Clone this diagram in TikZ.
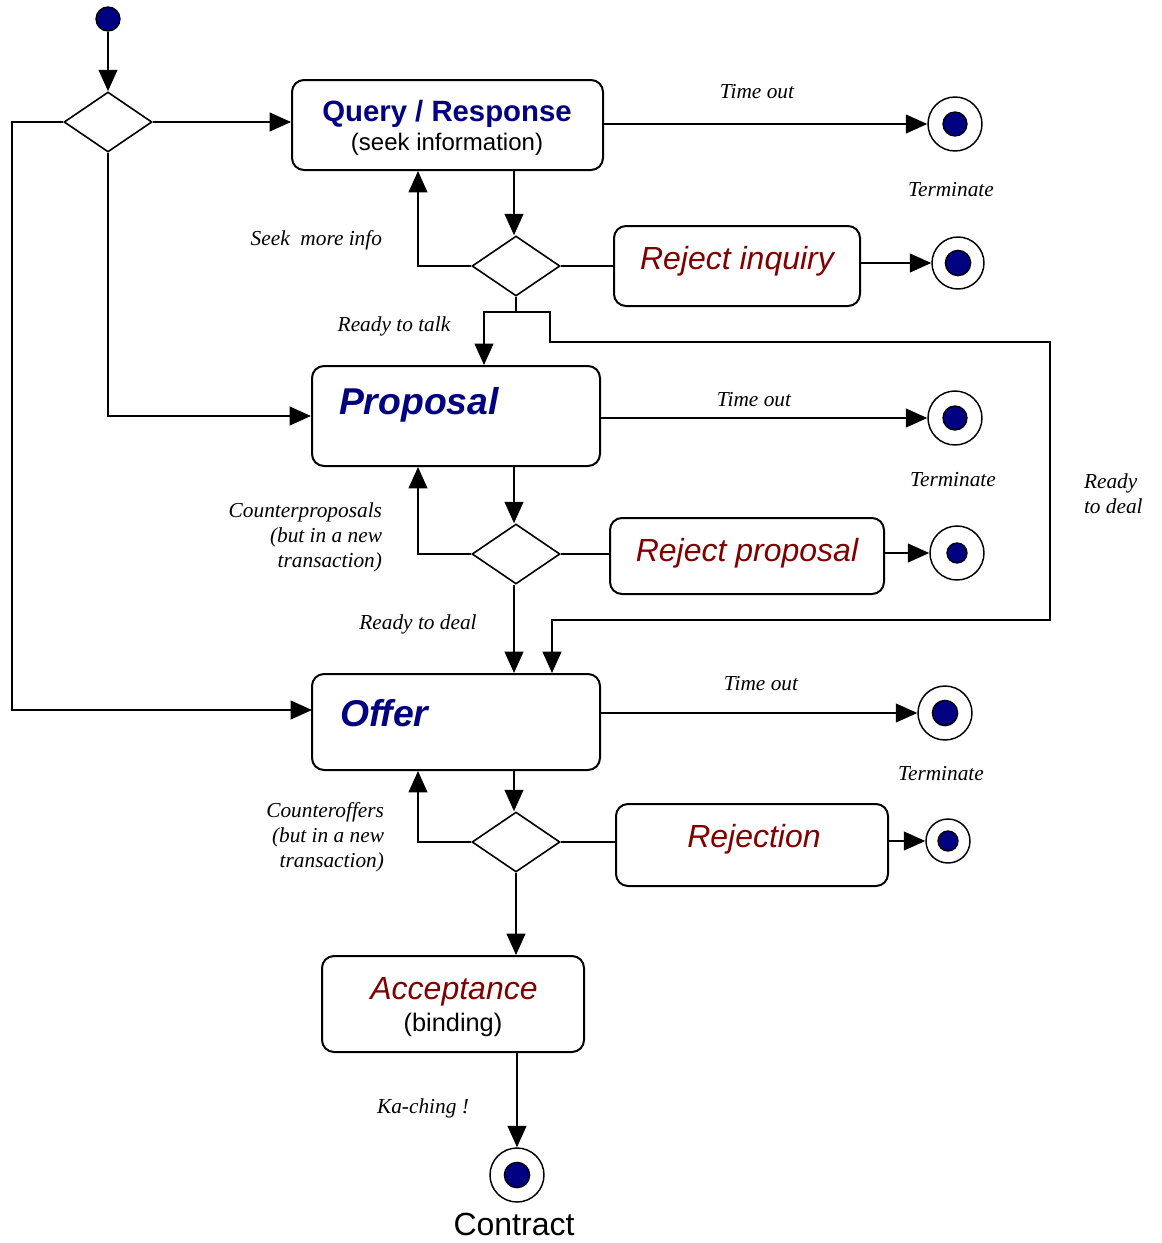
\documentclass[tikz,border=0pt]{standalone}
\usepackage{fontspec}
\setmainfont{Liberation Serif}
\newfontfamily\arial{Liberation Sans}
\usetikzlibrary{arrows.meta,shapes.geometric}
\definecolor{navyblue}{RGB}{0,0,128}
\definecolor{darkred}{RGB}{128,0,0}
\begin{document}
\begin{tikzpicture}[x=0.75pt,y=-0.75pt,
  line width=1.5pt,
  arr/.style={-{Triangle[length=16pt,width=14pt]}},
  box/.style={draw,rounded corners=9pt,inner sep=0pt},
  dec/.style={draw,diamond,inner sep=0pt,minimum width=66pt,minimum height=45pt,line width=1.2pt},
  endpt/.style={draw,circle,inner sep=0pt,fill=white,line width=1.1pt},
  dotpt/.style={draw,circle,inner sep=0pt,fill=navyblue,line width=1pt},
  lbl/.style={font=\fontsize{16}{19}\selectfont\itshape,inner sep=0pt},
  ttl/.style={font=\arial\fontsize{22}{26}\selectfont\bfseries,text=navyblue,inner sep=0pt},
  big/.style={font=\arial\fontsize{28}{32}\selectfont\bfseries\itshape,text=navyblue,inner sep=0pt},
  red/.style={font=\arial\fontsize{24}{28}\selectfont\itshape,text=darkred,inner sep=0pt},
  sub/.style={font=\arial\fontsize{18}{22}\selectfont,inner sep=0pt}
]
\useasboundingbox (0,0) rectangle (1161,1243);

% start
\node[dotpt,minimum size=18pt] (start) at (108,19) {};

% decisions
\node[dec] (d0) at (108,122) {};
\node[dec] (d1) at (516,266) {};
\node[dec] (d2) at (516,554) {};
\node[dec] (d3) at (516,842) {};

% boxes
\node[box,minimum width=233.25pt,minimum height=67.5pt] (query) at (447.5,125) {};
\node[ttl] (queryt) at (447,114) {Query / Response};
\node[sub] (querys) at (447,144) {(seek information)};

\node[box,minimum width=184.5pt,minimum height=60pt] (rejinq) at (737,266) {};
\node[red] (rejinqt) at (737,261) {Reject inquiry};

\node[box,minimum width=216pt,minimum height=75pt] (proposal) at (456,416) {};
\node[big,anchor=west] (proposalt) at (338,405) {Proposal};

\node[box,minimum width=205.5pt,minimum height=57pt] (rejprop) at (747,556) {};
\node[red] (rejpropt) at (747,553) {Reject proposal};

\node[box,minimum width=216pt,minimum height=72pt] (offer) at (456,722) {};
\node[big,anchor=west] (offert) at (339,713) {Offer};

\node[box,minimum width=204pt,minimum height=61.5pt] (rejection) at (752,845) {};
\node[red] (rejectiont) at (754,839) {Rejection};

\node[box,minimum width=196.5pt,minimum height=72pt] (accept) at (453,1004) {};
\node[red] (acceptt) at (454,992) {Acceptance};
\node[sub,font=\arial\fontsize{19}{22}\selectfont] (accepts) at (453,1025) {(binding)};

% end points
\node[endpt,minimum size=40.5pt] (e1) at (955,124) {};
\node[dotpt,minimum size=18pt] (e1d) at (e1) {};
\node[endpt,minimum size=39pt] (e2) at (958,263) {};
\node[dotpt,minimum size=19pt] (e2d) at (e2) {};
\node[endpt,minimum size=40.5pt] (e3) at (955,418) {};
\node[dotpt,minimum size=18pt] (e3d) at (e3) {};
\node[endpt,minimum size=40.5pt] (e4) at (957,553) {};
\node[dotpt,minimum size=15pt] (e4d) at (e4) {};
\node[endpt,minimum size=40.5pt] (e5) at (945,713) {};
\node[dotpt,minimum size=19pt] (e5d) at (e5) {};
\node[endpt,minimum size=33pt] (e6) at (948,841) {};
\node[dotpt,minimum size=15pt] (e6d) at (e6) {};
\node[endpt,minimum size=40.5pt] (e7) at (517,1175) {};
\node[dotpt,minimum size=19pt] (e7d) at (e7) {};

% labels
\node[lbl] (l1) at (757,92) {Time out};
\node[lbl] (l2) at (951,190) {Terminate};
\node[lbl,anchor=east] (l3) at (383,240) {Seek\ \ more info};
\node[lbl] (l4) at (394,326) {Ready to talk};
\node[lbl] (l5) at (754,400) {Time out};
\node[lbl] (l6) at (953,480) {Terminate};
\node[lbl,anchor=east,align=right,font=\fontsize{16}{18.75}\selectfont\itshape] (l7) at (383,537) {Counterproposals\\(but in a new\\transaction)};
\node[lbl] (l8) at (418,624) {Ready to deal};
\node[lbl,anchor=west,align=left,font=\fontsize{16}{18.75}\selectfont\itshape] (l9) at (1083,494) {Ready\\to deal};
\node[lbl] (l10) at (761,684) {Time out};
\node[lbl] (l11) at (941,774) {Terminate};
\node[lbl,anchor=east,align=right,font=\fontsize{16}{18.75}\selectfont\itshape] (l12) at (385,837) {Counteroffers\\(but in a new\\transaction)};
\node[lbl] (l13) at (423,1108) {Ka-ching !};
\node[sub,font=\arial\fontsize{24}{28}\selectfont] (contract) at (514,1224) {Contract};

% connectors
\draw[arr] (start) -- (d0.north);
\draw[arr] (d0.east) -- (d0.east -| query.west);
\draw[arr] (query.east |- e1) -- (e1.west);
\draw[arr] (514,0 |- query.south) -- (514,0 |- d1.north);
\draw[arr] (d1.west) -| (418,0 |- query.south);
\draw (d1.east) -- (d1.east -| rejinq.west);
\draw[arr] (rejinq.east |- e2) -- (e2.west);
\draw[arr] (d1.south) |- (484,312) -- (484,0 |- proposal.north);
\draw[arr] (516,312) -- (550,312) -- (550,342) -- (1050,342) -- (1050,620) -- (552,620) -- (552,0 |- offer.north);
\draw[arr] (d0.south) |- (proposal.west);
\draw[arr] (proposal.east |- e3) -- (e3.west);
\draw[arr] (514,0 |- proposal.south) -- (514,0 |- d2.north);
\draw[arr] (d2.west) -| (418,0 |- proposal.south);
\draw (d2.east) -- (d2.east -| rejprop.west);
\draw[arr] (rejprop.east |- e4) -- (e4.west);
\draw[arr] (514,0 |- d2.south) -- (514,0 |- offer.north);
\draw[arr] (d0.west) -| (12,710) -- (312,710);
\draw[arr] (offer.east |- e5) -- (e5.west);
\draw[arr] (514,0 |- offer.south) -- (514,0 |- d3.north);
\draw[arr] (d3.west) -| (418,0 |- offer.south);
\draw (d3.east) -- (d3.east -| rejection.west);
\draw[arr] (rejection.east |- e6) -- (e6.west);
\draw[arr] (d3.south) -- (d3.south |- accept.north);
\draw[arr] (e7.north |- accept.south) -- (e7.north);
\end{tikzpicture}
\end{document}
